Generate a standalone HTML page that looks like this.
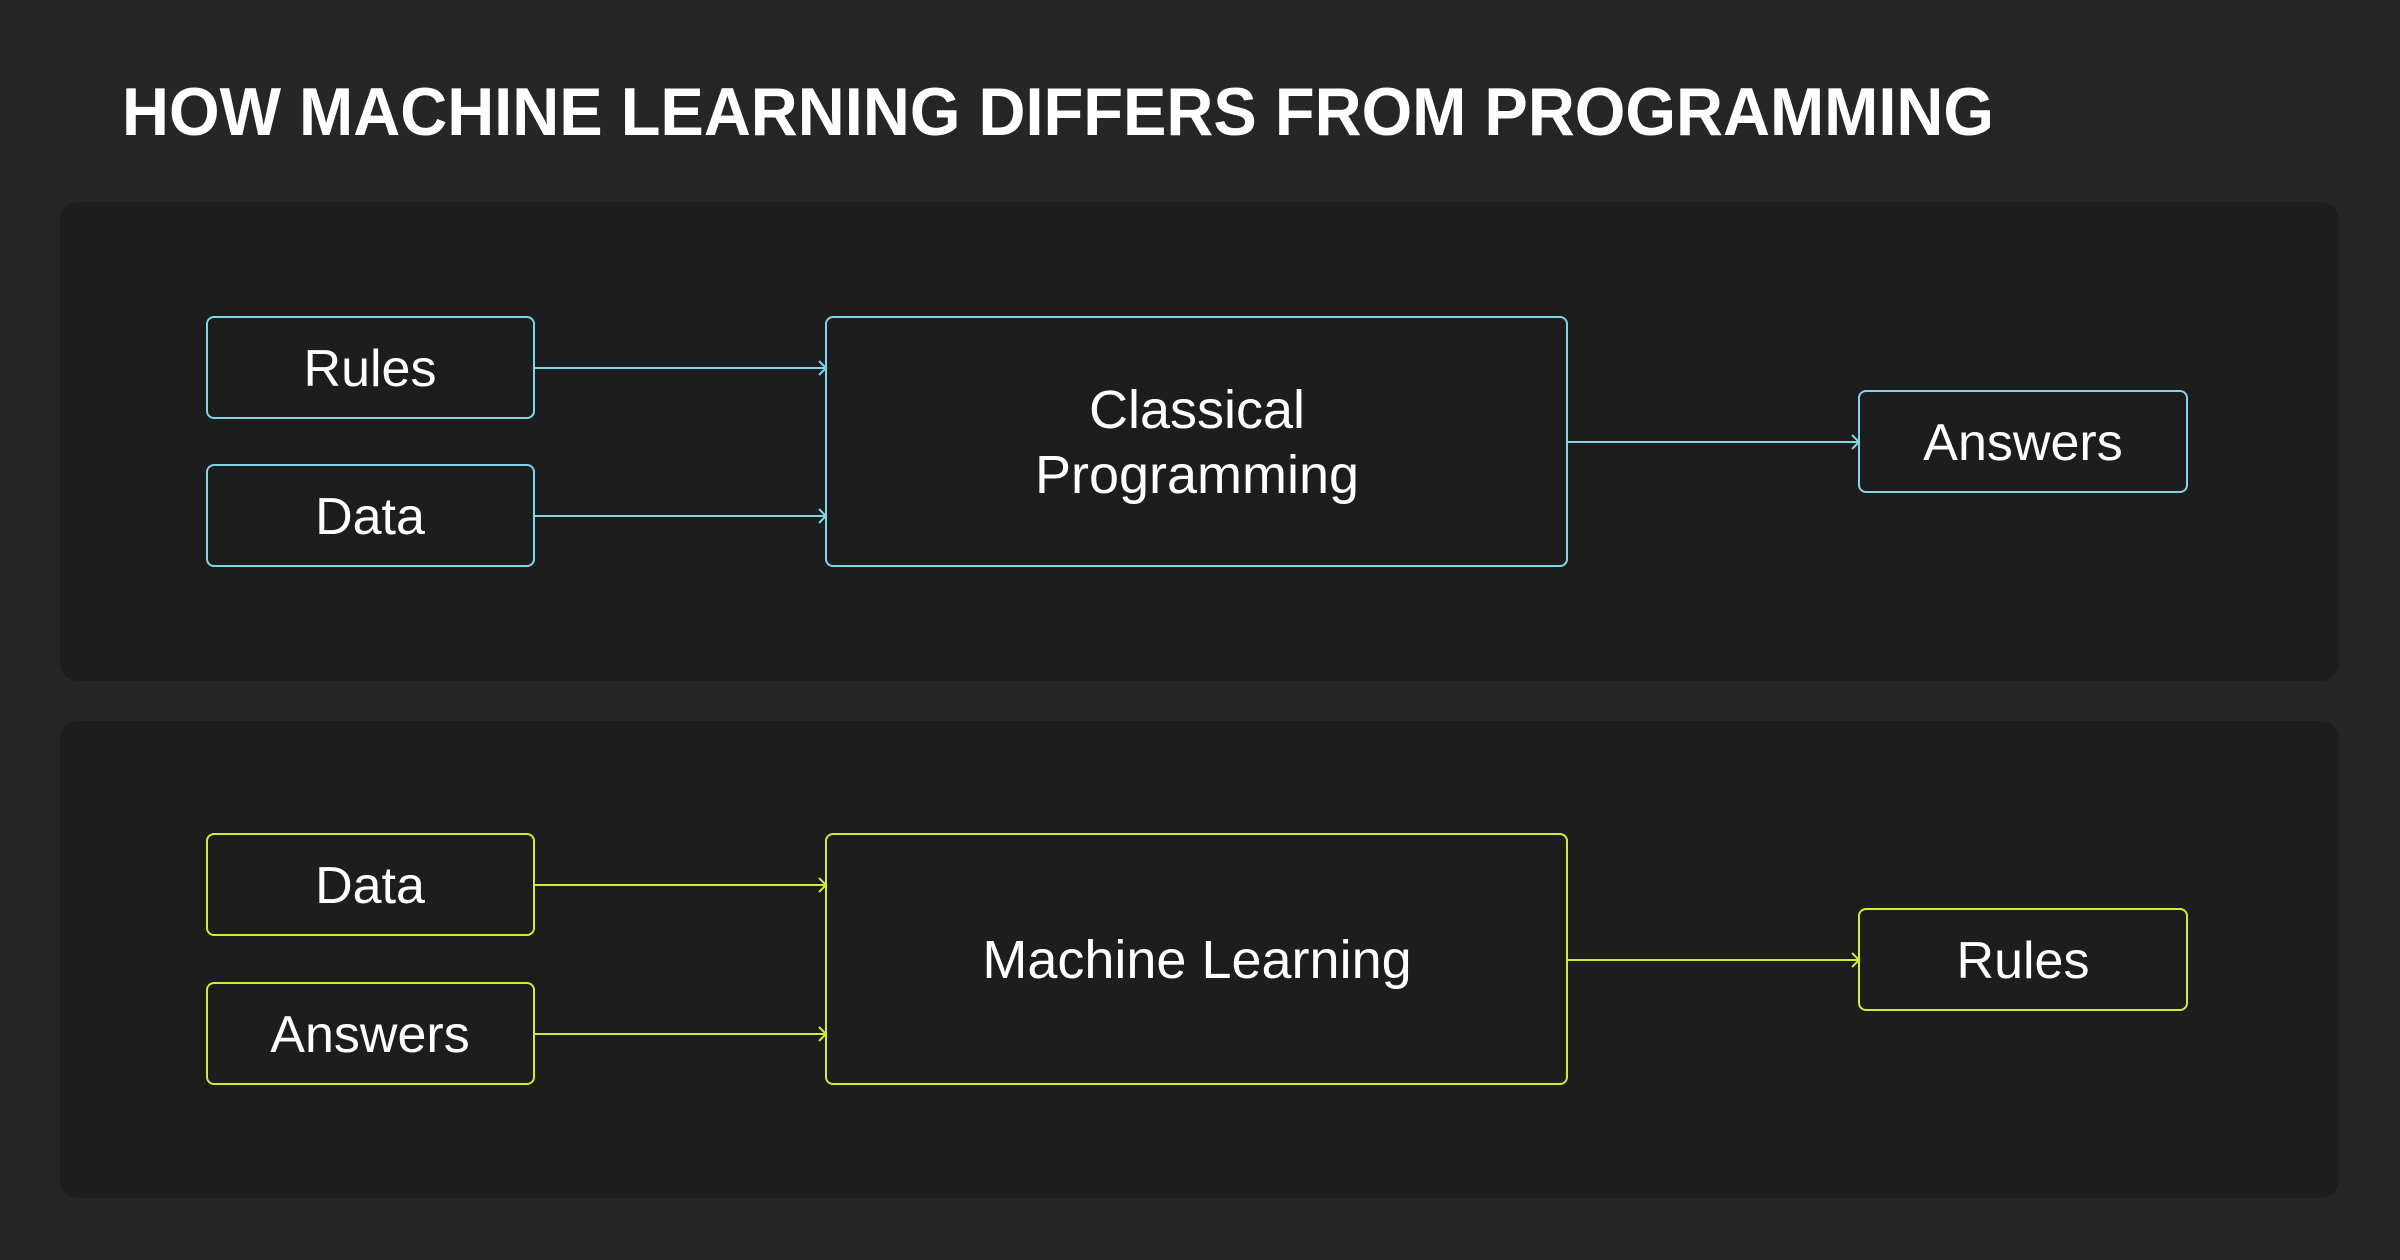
<!DOCTYPE html>
<html><head><meta charset="utf-8"><style>
html,body{margin:0;padding:0;background:#262626;}
svg{display:block;}
text{font-family:"Liberation Sans",sans-serif;fill:#fff;}
</style></head><body>
<svg width="2400" height="1260" viewBox="0 0 2400 1260" xmlns="http://www.w3.org/2000/svg">
<rect width="2400" height="1260" fill="#262626"/>
<text x="122" y="135" font-size="68" font-weight="bold" textLength="1872" lengthAdjust="spacingAndGlyphs">HOW MACHINE LEARNING DIFFERS FROM PROGRAMMING</text>
<rect x="60" y="202" width="2279" height="479" rx="18" fill="#1d1d1d"/>
<rect x="60" y="721" width="2279" height="477" rx="18" fill="#1d1d1d"/>
<g fill="none" stroke="#7fd6e6" stroke-width="2">
<rect x="207" y="317" width="327" height="101" rx="7"/>
<rect x="207" y="465" width="327" height="101" rx="7"/>
<rect x="826" y="317" width="741" height="249" rx="7"/>
<rect x="1859" y="391" width="328" height="101" rx="7"/>
<path d="M534 368H826M819 361l7 7-7 7"/>
<path d="M534 516H826M819 509l7 7-7 7"/>
<path d="M1567 442H1859M1852 435l7 7-7 7"/>
</g>
<g fill="none" stroke="#d4ea35" stroke-width="2">
<rect x="207" y="834" width="327" height="101" rx="7"/>
<rect x="207" y="983" width="327" height="101" rx="7"/>
<rect x="826" y="834" width="741" height="250" rx="7"/>
<rect x="1859" y="909" width="328" height="101" rx="7"/>
<path d="M534 885H826M819 878l7 7-7 7"/>
<path d="M534 1034H826M819 1027l7 7-7 7"/>
<path d="M1567 960H1859M1852 953l7 7-7 7"/>
</g>
<g font-size="52" text-anchor="middle">
<text x="370" y="386">Rules</text>
<text x="370" y="534">Data</text>
<text x="1197" y="428" font-size="54">Classical</text>
<text x="1197" y="493" font-size="54">Programming</text>
<text x="2023" y="460">Answers</text>
<text x="370" y="903">Data</text>
<text x="370" y="1052">Answers</text>
<text x="1197" y="978" font-size="54">Machine Learning</text>
<text x="2023" y="978">Rules</text>
</g>
</svg>
</body></html>
